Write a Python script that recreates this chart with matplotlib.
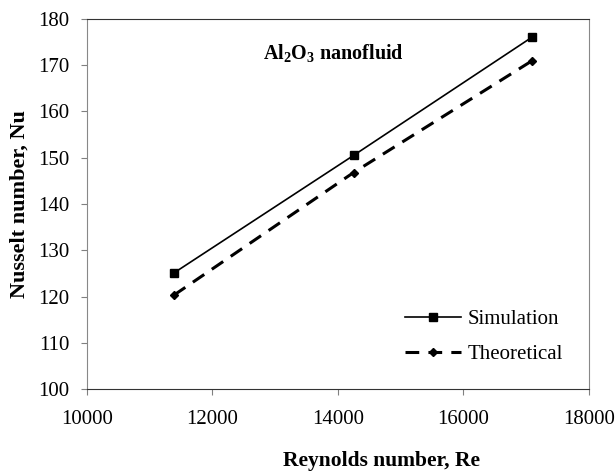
import matplotlib
matplotlib.use("Agg")
import matplotlib.pyplot as plt

# chart data
reynolds = [11390, 14250, 17085]
nu_simulation = [125.1, 150.5, 176.0]
nu_theoretical = [120.3, 146.8, 170.9]

plt.rcParams['font.family'] = ['Liberation Serif', 'DejaVu Serif']
plt.rcParams['mathtext.default'] = 'regular'

fig = plt.figure(figsize=(6.16, 4.72), dpi=100)
ax = fig.add_axes([0.1407, 0.1758, 0.8155, 0.784])

ax.plot(reynolds, nu_simulation, color='black', lw=1.2, marker='s',
        markersize=6, label='Simulation')
ax.plot(reynolds, nu_theoretical, color='black', lw=2.2, ls=(0, (4.5, 3)),
        marker='D', markersize=4.5, label='Theoretical')

ax.set_xlim(10000, 18000)
ax.set_ylim(100, 180)
ax.set_xticks(range(10000, 18001, 2000))
ax.set_yticks(range(100, 181, 10))
ax.tick_params(axis='both', direction='out', labelsize=15, length=4.3,
               color='#808080')
ax.tick_params(axis='x', pad=11)
ax.tick_params(axis='y', pad=8)
ax.spines['left'].set_color('#888888')
ax.spines['right'].set_color('#888888')
ax.spines['top'].set_color('#333333')
ax.spines['bottom'].set_color('#333333')

ax.set_xlabel('Reynolds number, Re', fontsize=15.5, fontweight='bold', labelpad=16)
ax.xaxis.label.set_x(0.586)
ax.set_ylabel('Nusselt number, Nu', fontsize=16, fontweight='bold', labelpad=6)

ax.text(13923, 172.6, r'Al$_2$O$_3$ nanofluid', fontsize=14.5, fontweight='bold',
        ha='center', va='center')

ax.legend(loc='lower right', bbox_to_anchor=(0.985, 0.016), frameon=False,
          fontsize=15, handlelength=2.7, labelspacing=0.75, handletextpad=0.3)

plt.savefig('out.png', dpi=100)
